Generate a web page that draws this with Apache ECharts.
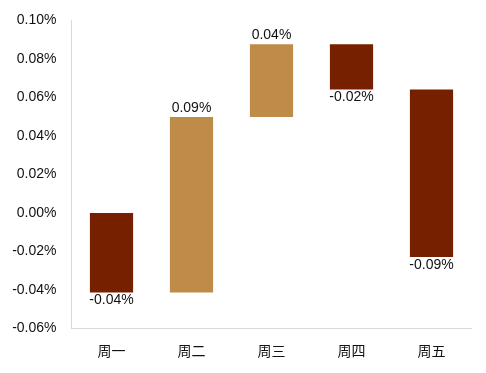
<!DOCTYPE html>
<html><head><meta charset="utf-8">
<script src="https://cdn.jsdelivr.net/npm/echarts@6/dist/echarts.min.js"></script>
<style>html,body{margin:0;padding:0;background:#fff}#c{width:486px;height:373px}</style>
</head><body><div id="c"></div>
<script>
var categories = ['周一','周二','周三','周四','周五'];
var changes = [-0.0413, 0.0912, 0.0377, -0.0235, -0.0870];
var changeLabels = ['-0.04%','0.09%','0.04%','-0.02%','-0.09%'];
var yTicks = {min: -0.06, max: 0.10, interval: 0.02};

var UP = '#BE8C48', DOWN = '#762000';
var data = [];
var run = 0;
for (var i = 0; i < changes.length; i++) {
  var start = run, end = run + changes[i];
  data.push([i, start, end, changeLabels[i]]);
  run = end;
}
var chart = echarts.init(document.getElementById('c'));
chart.setOption({
  animation: false,
  grid: {left: 71.5, right: 14.5, top: 20.5, bottom: 44.5},
  xAxis: {
    type: 'category', data: categories,
    axisLine: {onZero: false, lineStyle: {color: '#d9d9d9', width: 1}},
    axisTick: {show: false},
    axisLabel: {color: '#111', fontSize: 14, margin: 17, fontFamily: 'Liberation Sans, Noto Sans CJK SC'}
  },
  yAxis: {
    type: 'value', min: yTicks.min, max: yTicks.max, interval: yTicks.interval,
    splitLine: {show: false},
    axisLine: {show: true, lineStyle: {color: '#d9d9d9', width: 1}},
    axisTick: {show: false},
    axisLabel: {color: '#111', fontSize: 14, margin: 15, fontFamily: 'Liberation Sans',
      formatter: function (v) { return v.toFixed(2) + '%'; }}
  },
  series: [{
    type: 'custom',
    data: data,
    encode: {x: 0, y: [1, 2]},
    renderItem: function (params, api) {
      var idx = api.value(0), s = api.value(1), e = api.value(2);
      var p1 = api.coord([idx, s]), p2 = api.coord([idx, e]);
      var w = api.size([1, 0])[0] * 0.54;
      var top = Math.min(p1[1], p2[1]), bot = Math.max(p1[1], p2[1]);
      var up = e >= s;
      var lbl = data[params.dataIndex][3];
      return {
        type: 'group',
        children: [
          {type: 'rect', shape: {x: p1[0] - w / 2, y: top, width: w, height: bot - top},
            style: {fill: up ? UP : DOWN}},
          {type: 'text', x: p1[0], y: up ? top - 2 : bot + 1,
            style: {text: lbl, fill: '#111', font: '14px "Liberation Sans"', align: 'center',
              verticalAlign: up ? 'bottom' : 'top'}}
        ]
      };
    }
  }]
});
</script></body></html>
